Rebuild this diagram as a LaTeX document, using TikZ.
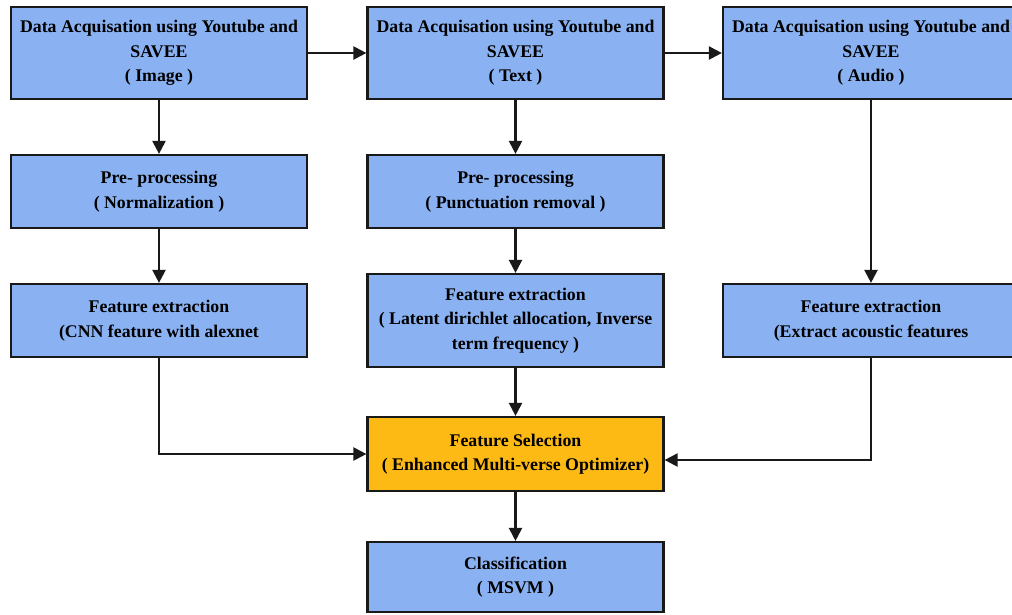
\documentclass[tikz,border=0pt]{standalone}
\usepackage{fontspec}
\setmainfont{Liberation Serif}
\usetikzlibrary{arrows.meta}
\definecolor{boxblue}{RGB}{138,178,242}
\definecolor{boxorange}{RGB}{253,185,20}
\tikzset{
  box/.style={draw=black!90, line width=2.2pt, fill=boxblue, minimum width=296pt, align=center,
    font=\fontsize{17.8}{24.5}\selectfont\bfseries, inner sep=0pt},
  selbox/.style={box, fill=boxorange},
  conn/.style={line width=2.2pt, draw=black!90, -{Triangle[length=13pt,width=13pt]}},
}
\begin{document}
\begin{tikzpicture}[x=1pt,y=-1pt]
\useasboundingbox (0,0) rectangle (1012,614);
\clip (0,0) rectangle (1012,614);
% row 1
\node[box, minimum height=92pt] (a1) at (159,53) {Data Acquisation using Youtube and\\SAVEE\\( Image )};
\node[box, minimum height=92pt] (b1) at (515.5,53) {Data Acquisation using Youtube and\\SAVEE\\( Text )};
\node[box, minimum height=92pt] (c1) at (871,53) {Data Acquisation using Youtube and\\SAVEE\\( Audio )};
% row 2
\node[box, minimum height=73pt] (a2) at (159,191.5) {Pre- processing\\( Normalization )};
\node[box, minimum height=73pt] (b2) at (515.5,191.5) {Pre- processing\\( Punctuation removal )};
% row 3
\node[box, minimum height=73pt] (a3) at (159,320.5) {Feature extraction\\(CNN feature with alexnet};
\node[box, minimum height=93pt] (b3) at (515.5,320.5) {Feature extraction\\( Latent dirichlet allocation, Inverse\\term frequency )};
\node[box, minimum height=73pt] (c3) at (871,320.5) {Feature extraction\\(Extract acoustic features};
% selection & classification
\node[selbox, minimum height=74pt] (fs) at (515.5,454) {Feature Selection\\( Enhanced Multi-verse Optimizer)};
\node[box, minimum height=70pt] (cl) at (515.5,577) {Classification\\( MSVM )};
% connectors
\draw[conn] (a1) -- (b1);
\draw[conn] (b1) -- (c1);
\draw[conn] (a1) -- (a2);
\draw[conn] (a2) -- (a3);
\draw[conn] (b1) -- (b2);
\draw[conn] (b2) -- (b3);
\draw[conn] (b3) -- (fs);
\draw[conn] (c1) -- (c3);
\draw[conn] (fs) -- (cl);
\draw[conn] (a3.south) |- (fs.west);
\draw[conn] (c3.south) |- ([yshift=-6pt]fs.east);
\end{tikzpicture}
\end{document}
